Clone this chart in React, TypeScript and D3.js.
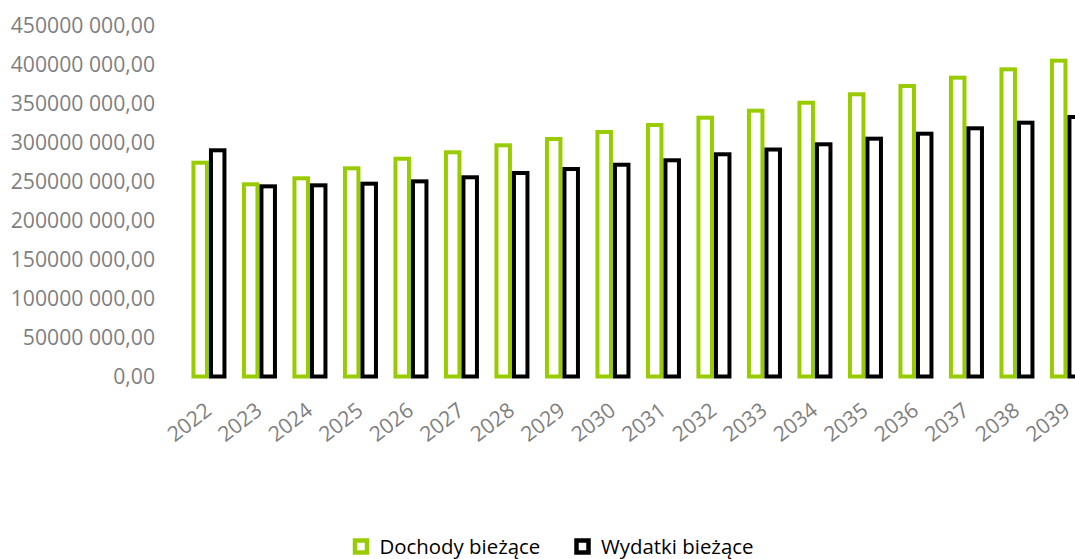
import React from "react";
import * as d3 from "d3";

const years = [
  "2022", "2023", "2024", "2025", "2026", "2027", "2028", "2029", "2030",
  "2031", "2032", "2033", "2034", "2035", "2036", "2037", "2038", "2039"
];

// values
const dochody = [
  274100000, 246400000, 254100000, 266900000, 279200000, 287400000,
  296400000, 304500000, 313500000, 322400000, 331800000, 340800000,
  351000000, 361800000, 372400000, 383100000, 393800000, 404900000
];

const wydatki = [
  290000000, 243800000, 245100000, 247200000, 250200000, 255400000,
  260900000, 266000000, 271500000, 277200000, 284900000, 291000000,
  297700000, 304900000, 311300000, 318200000, 325400000, 332700000
];

const seriesNames = ["Dochody bieżące", "Wydatki bieżące"];
const seriesColors = ["#99CC00", "#000000"];

const tickValues = [0, 50000000, 100000000, 150000000, 200000000, 250000000, 300000000, 350000000, 400000000, 450000000];
const tickLabels = [
  "0,00", "50000 000,00", "100000 000,00", "150000 000,00", "200000 000,00",
  "250000 000,00", "300000 000,00", "350000 000,00", "400000 000,00", "450000 000,00"
];

const W = 1075;
const H = 559;
const font = "'Open Sans', sans-serif";

export default function App() {
  // plot runs past the right edge, like the original (last bar is clipped)
  const x0 = d3.scaleBand<string>()
    .domain(years)
    .range([183.7, 183.7 + 50.5 * years.length])
    .paddingInner(0.386)
    .paddingOuter(0.193);

  const x1 = d3.scaleBand<number>()
    .domain([0, 1])
    .range([0, x0.bandwidth()])
    .paddingInner(0.229);

  const y = d3.scaleLinear().domain([0, 450000000]).range([376.5, 25.5]);

  const series = [dochody, wydatki];

  return (
    <svg width={W} height={H} style={{ position: "absolute", left: 0, top: 0, background: "#fff" }}>
      {/* y axis labels */}
      {tickValues.map((t, i) => (
        <text key={t} x={155} y={y(t) + 7.7} textAnchor="end"
          fontFamily={font} fontSize={21.2} fill="#7F7F7F">
          {tickLabels[i]}
        </text>
      ))}

      {/* bars */}
      {series.map((vals, s) => (
        <g key={s}>
          {vals.map((v, i) => (
            <rect key={years[i]}
              x={(x0(years[i]) ?? 0) + (x1(s) ?? 0)}
              y={y(v)}
              width={x1.bandwidth()}
              height={y(0) - y(v)}
              fill="#fff"
              stroke={seriesColors[s]}
              strokeWidth={4} />
          ))}
        </g>
      ))}

      {/* x axis labels */}
      {years.map((yr) => {
        const cx = (x0(yr) ?? 0) + x0.bandwidth() / 2 + 4;
        return (
          <text key={yr} transform={`translate(${cx},413) rotate(-38)`}
            textAnchor="end" fontFamily={font} fontSize={21.2} fill="#7F7F7F">
            {yr}
          </text>
        );
      })}

      {/* legend */}
      {seriesNames.map((name, i) => {
        const lx = i === 0 ? 355 : 576.5;
        return (
          <g key={name}>
            <rect x={lx} y={540.5} width={12} height={12} fill="#fff"
              stroke={seriesColors[i]} strokeWidth={4.5} />
            <text x={lx + 24.5} y={553.5} fontFamily={font} fontSize={20.4} fill="#000">
              {name}
            </text>
          </g>
        );
      })}
    </svg>
  );
}
